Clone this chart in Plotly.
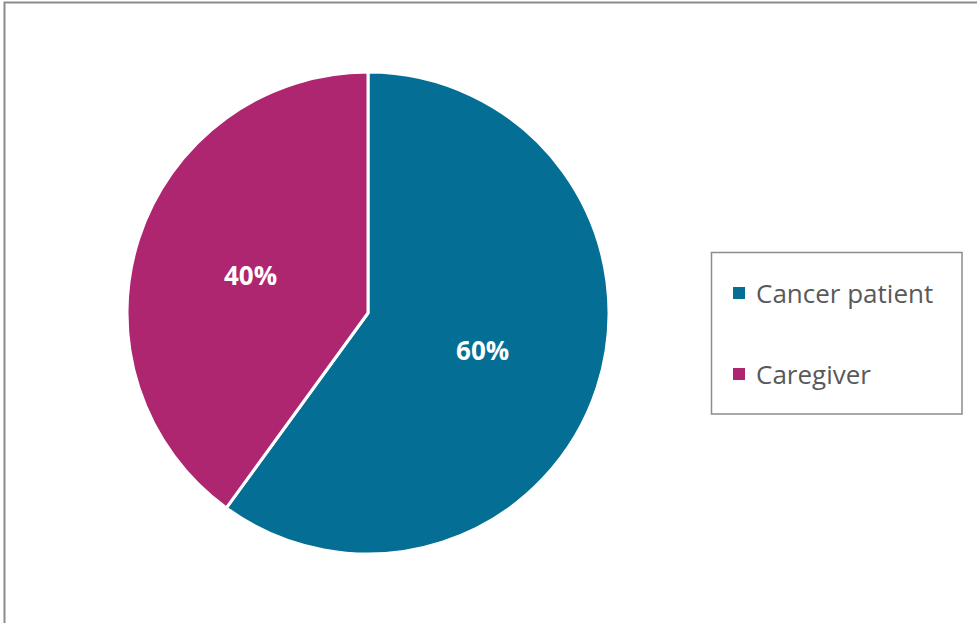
import plotly.graph_objects as go

# Share of respondents by role
categories = ["Cancer patient", "Caregiver"]
values = [60, 40]
colors = ["#046E95", "#AE2570"]

W, H = 977, 623

fig = go.Figure()
fig.add_trace(go.Pie(
    labels=categories,
    values=values,
    sort=False,
    direction="clockwise",
    rotation=0,
    marker=dict(colors=colors, line=dict(color="white", width=3)),
    texttemplate="%{percent:.0%}",
    textposition="inside",
    insidetextorientation="horizontal",
    textfont=dict(family="Open Sans", size=26, color="white", weight="bold"),
    domain=dict(x=[127 / W, 609 / W], y=[1 - 555 / H, 1 - 71 / H]),
    showlegend=False,
    hoverinfo="label+percent",
))

shapes = [
    # chart frame
    dict(type="rect", xref="paper", yref="paper",
         x0=4.5 / W, x1=1.02, y0=-0.02, y1=1 - 2.5 / H,
         line=dict(color="#8C8C8C", width=2), fillcolor="rgba(0,0,0,0)"),
    # legend frame
    dict(type="rect", xref="paper", yref="paper",
         x0=711.5 / W, x1=962 / W, y0=1 - 414 / H, y1=1 - 252.5 / H,
         line=dict(color="#8C8C8C", width=1.5), fillcolor="white"),
]
annotations = []
legend_rows = [293, 374]
for name, col, yc in zip(categories, colors, legend_rows):
    shapes.append(dict(type="rect", xref="paper", yref="paper",
                       x0=733 / W, x1=745 / W, y0=1 - (yc + 6) / H, y1=1 - (yc - 6) / H,
                       line=dict(width=0), fillcolor=col))
    annotations.append(dict(text=name, xref="paper", yref="paper",
                            x=754 / W, y=1 - yc / H, xanchor="left", yanchor="middle",
                            showarrow=False,
                            font=dict(family="Open Sans", size=26, color="#595959")))

fig.update_layout(
    width=W, height=H,
    margin=dict(l=0, r=0, t=0, b=0),
    paper_bgcolor="white",
    plot_bgcolor="white",
    shapes=shapes,
    annotations=annotations,
)

fig.write_html("out.html")
